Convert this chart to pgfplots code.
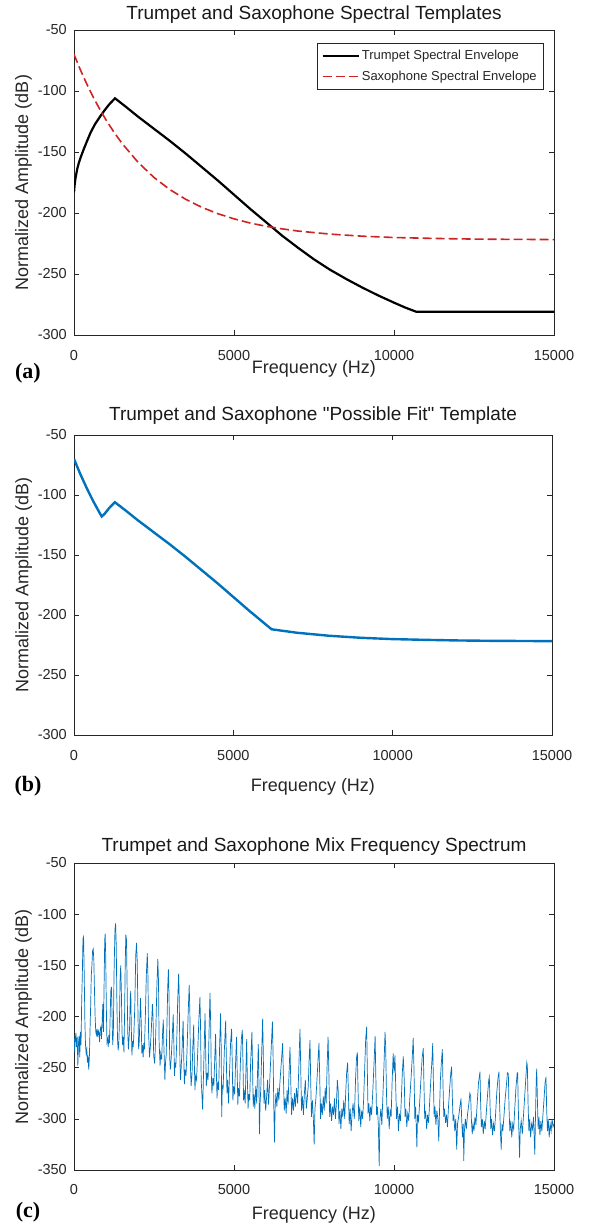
\documentclass[border=0pt]{standalone}
\usepackage{fontspec}
\setmainfont{Liberation Sans}[Ligatures=TeXOff]
\newfontfamily\panelfont{Liberation Serif}
\usepackage{pgfplots}
\usepackage{pgfplotstable}
\pgfplotsset{compat=1.18}

\definecolor{mblue}{RGB}{0,114,189}
\definecolor{mred}{RGB}{205,35,35}
\definecolor{mgray}{RGB}{38,38,38}

\pgfplotsset{
  matlab/.style={
    scale only axis,
    xmin=0, xmax=15000,
    scaled x ticks=false,
    scaled y ticks=false,
    xtick={0,5000,10000,15000},
    xticklabels={0,5000,10000,15000},
    tick align=inside,
    major tick length=5pt,
    axis line style={mgray, line width=0.6pt},
    every tick/.style={mgray, line width=0.6pt},
    tick label style={font=\fontsize{14.5}{16}\selectfont, text=mgray},
    yticklabel style={anchor=east, inner sep=0pt, xshift=-7pt},
    xlabel={Frequency (Hz)},
    ylabel={Normalized Amplitude (dB)},
    label style={font=\fontsize{18}{20}\selectfont, text=mgray},
    ylabel style={at={(axis description cs:-0.1052,0.5)}, anchor=center},
    title style={font=\fontsize{19}{21}\selectfont, text=black!90, anchor=base},
  }
}

\begin{document}

% panel (a): spectral envelopes
\pgfplotstableread{
f db
0 -183
20 -177
50 -171
100 -164
150 -159
200 -155
300 -148
400 -141.5
520 -134
650 -127.5
800 -121.5
950 -116
1100 -111
1281 -106
1600 -112.5
2000 -121
2500 -131
3000 -141
3500 -151.5
4000 -162.5
4500 -173.5
5000 -185
5500 -196.5
6000 -207.5
6500 -218.5
7000 -228.5
7500 -238
8000 -246.5
8500 -254
9000 -261
9500 -267.5
10000 -273.5
10350 -277.5
10700 -281
15000 -281
}\trumpet

\pgfplotstableread{
f db
0 -70
200 -82.7
400 -94.3
600 -105
800 -114.7
1000 -123.7
1250 -133.8
1500 -142.9
2000 -158.4
2500 -170.9
3000 -180.9
3500 -188.9
4000 -195.4
4500 -200.6
5000 -204.8
5500 -208.2
6000 -210.9
6500 -213.0
7000 -214.8
8000 -217.3
9000 -219.0
10000 -220.1
11000 -220.7
12000 -221.2
13000 -221.5
15000 -221.8
}\sax

% panel (b): possible fit
\pgfplotstableread{
f db
0 -70
200 -82.7
400 -94.3
600 -105
800 -114.7
870 -117.9
950 -116
1100 -111
1281 -106
1600 -112.5
2000 -121
2500 -131
3000 -141
3500 -151.5
4000 -162.5
4500 -173.5
5000 -185
5500 -196.5
6000 -207.5
6200 -211.9
6500 -213.0
7000 -214.8
8000 -217.3
9000 -219.0
10000 -220.1
11000 -220.7
12000 -221.2
13000 -221.5
15000 -221.8
}\fit

% panel (c): mix spectrum
\pgfplotstableread{
f db
0 -218
20 -235
40 -222
60 -216
80 -230
100 -220
120 -248
140 -226
160 -219
180 -240
200 -215
220 -228
240 -185
260 -160
280 -124
300 -122
320 -160
340 -205
360 -228
380 -236
400 -232
420 -245
440 -238
460 -252
480 -240
500 -215
520 -190
540 -160
560 -150
580 -136
600 -134
620 -145
640 -175
660 -200
680 -215
700 -218
720 -212
740 -220
760 -214
780 -216
800 -225
820 -212
840 -210
860 -222
880 -205
900 -188
920 -215
940 -170
960 -125
975 -119
990 -140
1010 -190
1030 -225
1050 -222
1070 -230
1090 -218
1110 -226
1130 -200
1150 -175
1170 -171
1190 -200
1210 -228
1230 -215
1250 -160
1280 -115
1300 -109
1320 -130
1340 -185
1360 -222
1380 -233
1400 -226
1420 -205
1440 -165
1460 -150
1480 -175
1500 -215
1520 -228
1540 -220
1560 -235
1580 -200
1600 -150
1620 -120
1640 -125
1660 -170
1680 -215
1700 -232
1720 -222
1740 -208
1760 -180
1775 -175
1790 -210
1810 -238
1830 -224
1850 -230
1870 -218
1900 -190
1930 -140
1955 -128
1975 -145
2000 -200
2020 -232
2040 -224
2060 -200
2080 -182
2100 -205
2120 -236
2140 -228
2160 -240
2180 -226
2200 -232
2230 -200
2260 -160
2290 -138
2310 -160
2330 -215
2360 -240
2390 -228
2420 -210
2450 -188
2470 -200
2490 -238
2520 -246
2540 -232
2560 -210
2590 -170
2620 -144
2640 -165
2660 -225
2690 -248
2710 -236
2740 -242
2770 -215
2790 -203
2810 -230
2840 -262
2860 -245
2880 -238
2900 -215
2930 -170
2950 -154
2970 -180
2990 -240
3010 -252
3040 -240
3070 -220
3100 -198
3120 -225
3140 -258
3160 -245
3180 -250
3210 -225
3240 -185
3270 -158
3290 -185
3310 -245
3330 -262
3350 -250
3380 -230
3410 -204
3430 -240
3450 -266
3470 -252
3500 -258
3530 -235
3570 -195
3600 -169
3620 -195
3640 -250
3660 -268
3690 -255
3710 -232
3740 -208
3760 -245
3780 -272
3800 -258
3830 -262
3860 -240
3900 -205
3935 -181
3955 -210
3975 -262
3995 -275
4020 -291
4040 -266
4070 -228
4095 -197
4115 -235
4135 -268
4160 -255
4190 -262
4220 -215
4250 -177
4270 -205
4290 -255
4310 -275
4340 -260
4370 -268
4400 -240
4425 -217
4445 -250
4470 -280
4490 -264
4520 -272
4550 -230
4580 -197
4600 -230
4615 -298
4635 -268
4660 -270
4700 -232
4740 -204
4760 -240
4780 -275
4800 -262
4830 -285
4860 -255
4895 -225
4925 -212
4945 -245
4965 -282
4990 -268
5020 -276
5050 -245
5080 -220
5100 -255
5120 -286
5140 -270
5170 -278
5200 -245
5230 -222
5260 -213
5280 -245
5300 -282
5320 -272
5350 -285
5375 -250
5396 -222
5415 -258
5440 -290
5460 -276
5490 -282
5520 -245
5560 -215
5580 -250
5600 -288
5625 -276
5650 -290
5680 -268
5710 -285
5740 -250
5760 -227
5780 -265
5795 -315
5815 -285
5840 -268
5870 -230
5895 -202
5915 -235
5935 -285
5960 -272
5990 -292
6020 -278
6050 -262
6080 -286
6110 -268
6150 -240
6200 -205
6220 -235
6245 -290
6265 -323
6285 -290
6310 -275
6340 -288
6370 -270
6400 -282
6440 -262
6490 -240
6520 -226
6545 -260
6570 -292
6600 -280
6630 -295
6660 -272
6690 -286
6720 -255
6750 -230
6775 -265
6800 -296
6830 -280
6860 -292
6890 -275
6920 -288
6950 -270
6990 -285
7030 -245
7062 -212
7085 -250
7110 -292
7140 -278
7170 -296
7200 -275
7230 -262
7260 -290
7290 -280
7320 -268
7350 -240
7375 -223
7395 -260
7420 -298
7450 -282
7480 -300
7505 -325
7530 -290
7560 -280
7600 -258
7630 -240
7656 -226
7680 -262
7705 -300
7730 -285
7760 -296
7790 -278
7820 -292
7850 -270
7880 -285
7910 -248
7940 -220
7965 -255
7990 -298
8020 -285
8050 -302
8080 -288
8110 -296
8140 -280
8170 -300
8200 -285
8230 -262
8255 -272
8280 -305
8310 -292
8340 -310
8370 -290
8400 -298
8430 -282
8460 -300
8490 -275
8520 -255
8550 -245
8575 -275
8600 -305
8630 -290
8660 -312
8690 -295
8720 -285
8760 -300
8800 -260
8830 -240
8855 -235
8875 -270
8900 -302
8930 -288
8960 -308
8990 -292
9020 -300
9050 -282
9085 -250
9115 -222
9146 -210
9165 -250
9190 -295
9215 -285
9245 -302
9270 -288
9300 -296
9330 -278
9370 -250
9410 -219
9430 -255
9455 -296
9480 -288
9510 -305
9537 -346
9560 -300
9590 -290
9620 -306
9650 -280
9690 -245
9720 -215
9740 -230
9765 -275
9790 -300
9820 -288
9850 -310
9880 -292
9910 -298
9940 -265
9975 -236
10000 -255
10030 -238
10055 -270
10080 -300
10110 -288
10140 -312
10170 -295
10200 -302
10230 -280
10260 -255
10290 -239
10320 -262
10345 -298
10370 -290
10400 -308
10430 -295
10460 -302
10490 -282
10530 -262
10570 -240
10600 -221
10625 -252
10650 -300
10675 -288
10700 -312
10715 -328
10735 -296
10765 -302
10800 -285
10840 -262
10880 -240
10915 -231
10935 -265
10960 -300
10990 -292
11020 -310
11050 -296
11080 -304
11110 -286
11150 -262
11190 -240
11210 -226
11230 -262
11255 -298
11280 -288
11310 -306
11340 -292
11370 -300
11400 -322
11420 -295
11450 -262
11480 -245
11510 -232
11530 -265
11555 -298
11580 -290
11610 -304
11640 -296
11670 -308
11700 -290
11740 -270
11775 -255
11800 -249
11820 -275
11845 -302
11870 -296
11900 -312
11930 -300
11960 -330
11985 -305
12020 -298
12060 -288
12094 -280
12115 -300
12140 -318
12165 -305
12180 -341
12200 -312
12230 -300
12260 -310
12300 -295
12340 -285
12370 -275
12396 -278
12420 -302
12445 -315
12470 -305
12500 -312
12530 -298
12560 -306
12600 -285
12640 -265
12687 -254
12705 -282
12730 -308
12760 -300
12790 -315
12820 -302
12850 -310
12880 -296
12920 -278
12960 -262
12979 -259
13000 -285
13025 -310
13050 -300
13080 -316
13110 -305
13140 -312
13170 -298
13210 -275
13250 -260
13281 -254
13300 -285
13325 -312
13350 -330
13375 -305
13400 -312
13430 -300
13470 -282
13510 -268
13545 -255
13573 -256
13595 -290
13620 -312
13650 -302
13680 -318
13710 -305
13740 -310
13770 -292
13810 -270
13850 -255
13864 -255
13885 -290
13905 -315
13925 -338
13945 -310
13975 -302
14010 -315
14040 -300
14080 -280
14120 -260
14150 -245
14167 -248
14190 -285
14215 -312
14240 -300
14270 -318
14300 -305
14330 -310
14360 -298
14400 -335
14420 -300
14445 -262
14460 -251
14480 -280
14505 -310
14530 -298
14560 -316
14590 -302
14620 -312
14650 -298
14690 -280
14720 -265
14750 -259
14770 -290
14795 -312
14820 -300
14850 -318
14880 -305
14910 -312
14940 -300
14970 -308
15000 -305
}\mix

\begin{tikzpicture}
\path[use as bounding box] (0pt,0pt) rectangle (590pt,1227pt);

% (a)
\begin{axis}[matlab,
    at={(74pt,892pt)}, anchor=south west,
    width=480pt, height=305pt,
    ymin=-300, ymax=-50,
    ytick={-300,-250,-200,-150,-100,-50},
    yticklabels={-300,-250,-200,-150,-100,-50},
    xticklabel style={anchor=base, yshift=-26pt},
    xlabel style={at={(axis description cs:0.5,-0.1262)}, anchor=base},
    title={Trumpet and Saxophone Spectral Templates},
    title style={at={(axis description cs:0.5,1.0131)}},
    legend style={at={(axis description cs:1,1)}, anchor=north east,
      xshift=-11pt, yshift=-13pt, draw=mgray, line width=0.5pt,
      font=\fontsize{13}{15}\selectfont, text=mgray,
      inner xsep=4pt, inner ysep=5pt, row sep=6pt},
    legend cell align=left,
    legend image code/.code={\draw[#1] (0pt,0pt) -- (36pt,0pt);},
]
\addplot[black, line width=2.2pt] table[x=f, y=db] {\trumpet};
\addlegendentry{Trumpet Spectral Envelope}
\addplot[mred, line width=1.6pt, dash pattern=on 9pt off 4pt] table[x=f, y=db] {\sax};
\addlegendentry{Saxophone Spectral Envelope}
\end{axis}

% (b)
\begin{axis}[matlab,
    at={(74pt,492pt)}, anchor=south west,
    width=478pt, height=300pt,
    ymin=-300, ymax=-50,
    ytick={-300,-250,-200,-150,-100,-50},
    yticklabels={-300,-250,-200,-150,-100,-50},
    xticklabel style={anchor=base, yshift=-26pt},
    xlabel style={at={(axis description cs:0.5,-0.1883)}, anchor=base},
    title={Trumpet and Saxophone "Possible Fit" Template},
    title style={at={(axis description cs:0.5,1.0267)}},
]
\addplot[mblue, line width=2.4pt] table[x=f, y=db] {\fit};
\end{axis}

% (c)
\begin{axis}[matlab,
    at={(74pt,57pt)}, anchor=south west,
    width=480pt, height=307pt,
    ymin=-350, ymax=-50,
    ytick={-350,-300,-250,-200,-150,-100,-50},
    yticklabels={-350,-300,-250,-200,-150,-100,-50},
    xticklabel style={anchor=base, yshift=-24pt},
    xlabel style={at={(axis description cs:0.5,-0.1612)}, anchor=base},
    title={Trumpet and Saxophone Mix Frequency Spectrum},
    title style={at={(axis description cs:0.5,1.0163)}},
]
\addplot[mblue, line width=0.7pt] table[x=f, y=db] {\mix};
\end{axis}

\node[font=\panelfont\bfseries\fontsize{22}{24}\selectfont] at (28pt,854pt) {(a)};
\node[font=\panelfont\bfseries\fontsize{22}{24}\selectfont] at (28pt,441pt) {(b)};
\node[font=\panelfont\bfseries\fontsize{22}{24}\selectfont] at (28pt,15pt) {(c)};
\end{tikzpicture}
\end{document}
